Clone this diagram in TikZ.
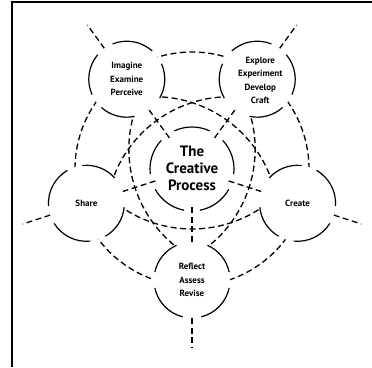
\documentclass[tikz,border=0pt]{standalone}
\usepackage{fontspec}
\setmainfont{PT Sans}
\usetikzlibrary{calc}
\begin{document}
\begin{tikzpicture}[x=1pt,y=1pt,
  dline/.style={line width=1.3pt, dash pattern=on 6pt off 3.5pt},
  rim/.style={line width=1.2pt},
  lbl/.style={font=\fontsize{9}{13.5}\selectfont\bfseries, align=center, inner sep=0pt},
  ctrtext/.style={font=\fontsize{15}{17}\selectfont\bfseries, align=center, inner sep=0pt}]
\useasboundingbox (0,0) rectangle (372,367);
\fill[white] (0,0) rectangle (372,367);
% frame
\draw[line width=1.2pt] (12,0) -- (12,365) -- (372,365);
\coordinate (O) at (192,198);
\foreach \n/\a in {tl/126,tr/54,sh/198,cr/342,rf/270}{
  \coordinate (\n) at ($(O)+(\a:111)$);
}
% ring through the five stages
\draw[dline] (O) circle[radius=117];
% radial connectors
\foreach \n/\a in {tl/126,tr/54,sh/198,cr/342,rf/270}{
  \coordinate (\n-out) at ($(O)+(\a:178)$);
  \coordinate (\n-in) at ($(O)+(\a:38)$);
  \draw[dline] ($(\n)+(\a:38)$) -- (\n-out);
  \draw[dline] ($(\n)+({\a+180}:38)$) -- (\n-in);
}
% curved star arcs
\foreach \a in {126,54,198,342,270}{
  \pgfmathsetmacro\sa{\a-45}
  \pgfmathsetmacro\ea{\a+45}
  \pgfmathsetmacro\ca{\a+180}
  \draw[dline] ($(O)+(\ca:64)+(\sa:124)$) arc[start angle=\sa, end angle=\ea, radius=124];
}
% clear stage circles
\foreach \n in {tl,tr,sh,cr,rf}{
  \fill[white] (\n) circle[radius=38];
}
% stage circle outlines with gaps
\foreach \n/\a in {tl/126,tr/54,sh/198,cr/342,rf/270}{
  \foreach \s/\e in {14/78,102/156,204/258,282/346}{
    \pgfmathsetmacro\sa{\a+\s}
    \pgfmathsetmacro\ea{\a+\e}
    \draw[rim] ($(\n)+(\sa:38)$) arc[start angle=\sa, end angle=\ea, radius=38];
  }
}
% inner circle
\foreach \a in {126,54,198,342,270}{
  \pgfmathsetmacro\sa{\a+11}
  \pgfmathsetmacro\ea{\a+61}
  \draw[rim] ($(O)+(\sa:42)$) arc[start angle=\sa, end angle=\ea, radius=42];
}
% texts
\node[ctrtext] (ctr) at ($(O)+(0,1)$) {The\\Creative\\Process};
\node[lbl] (tlt) at (tl) {Imagine\\Examine\\Perceive};
\node[lbl] (trt) at ($(tr)+(3,-1)$) {Explore\\Experiment\\Develop\\Craft};
\node[lbl] (sht) at (sh) {Share};
\node[lbl] (crt) at (cr) {Create};
\node[lbl] (rft) at (rf) {Reflect\\Assess\\Revise};
\end{tikzpicture}
\end{document}
